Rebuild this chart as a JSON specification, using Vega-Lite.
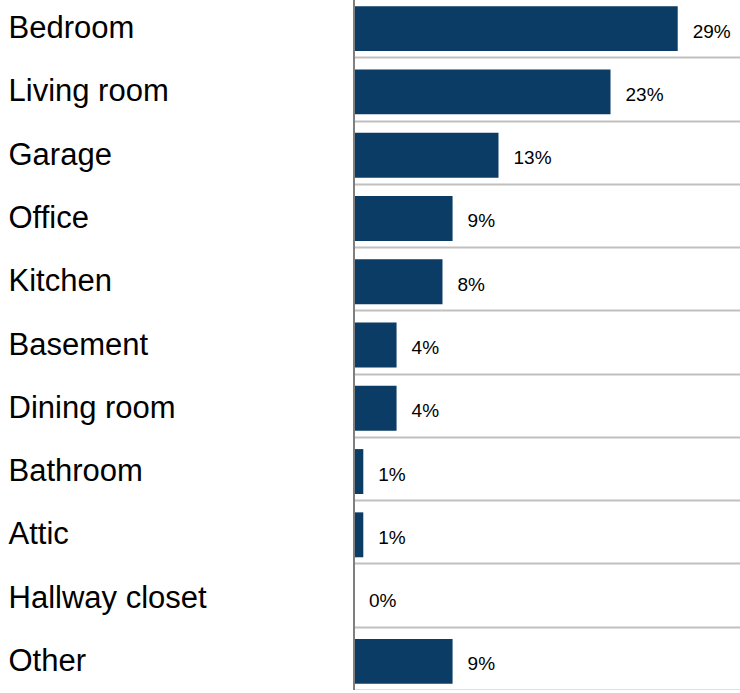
{
  "$schema": "https://vega.github.io/schema/vega-lite/v6.json",
  "width": 735,
  "height": 696,
  "padding": {"left": 5, "top": -6, "right": 0, "bottom": 0},
  "autosize": {"type": "none"},
  "background": "white",
  "config": {"view": {"stroke": null}, "font": "Liberation Sans"},
  "data": {
    "values": [
      {"room": "Bedroom", "pct": 28.9, "label": "29%"},
      {"room": "Living room", "pct": 22.9, "label": "23%"},
      {"room": "Garage", "pct": 12.9, "label": "13%"},
      {"room": "Office", "pct": 8.8, "label": "9%"},
      {"room": "Kitchen", "pct": 7.9, "label": "8%"},
      {"room": "Basement", "pct": 3.8, "label": "4%"},
      {"room": "Dining room", "pct": 3.8, "label": "4%"},
      {"room": "Bathroom", "pct": 0.83, "label": "1%"},
      {"room": "Attic", "pct": 0.83, "label": "1%"},
      {"room": "Hallway closet", "pct": 0, "label": "0%"},
      {"room": "Other", "pct": 8.8, "label": "9%"}
    ]
  },
  "layer": [
    {
      "mark": {"type": "bar", "color": "#0b3c65", "height": {"band": 0.71}, "yOffset": 3},
      "encoding": {
        "y": {
          "field": "room", "type": "nominal", "sort": null, "title": null,
          "scale": {"paddingInner": 0, "paddingOuter": 0},
          "axis": {
            "domain": false, "ticks": false, "tickSize": 0,
            "labelAlign": "left", "labelPadding": -3, "labelFontSize": 31,
            "labelColor": "#000000", "labelLimit": 600, "labelOffset": 3,
            "grid": true, "gridColor": "#c0c0c0", "gridWidth": 2,
            "tickBand": "extent", "zindex": 0
          }
        },
        "x": {
          "field": "pct", "type": "quantitative",
          "scale": {"domain": [0, 34.46], "range": [349, 735], "nice": false, "zero": true},
          "axis": null
        }
      }
    },
    {
      "mark": {"type": "rule", "color": "#7f7f7f", "strokeWidth": 1.5},
      "encoding": {"x": {"datum": 0}}
    },
    {
      "mark": {"type": "text", "align": "left", "baseline": "middle", "dx": 15, "yOffset": 6, "fontSize": 19, "color": "#000000"},
      "encoding": {
        "y": {"field": "room", "type": "nominal", "sort": null},
        "x": {"field": "pct", "type": "quantitative"},
        "text": {"field": "label"}
      }
    }
  ]
}
